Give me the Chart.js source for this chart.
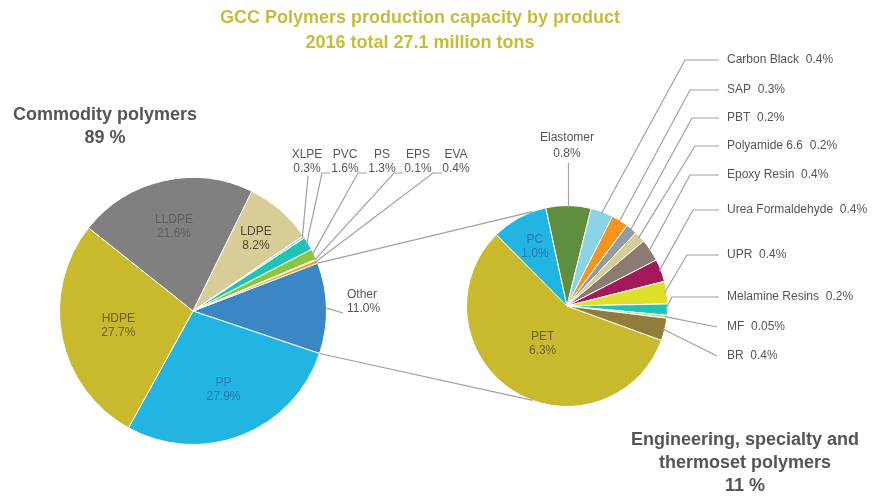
<!DOCTYPE html>
<html>
<head>
<meta charset="utf-8">
<script src="https://cdn.jsdelivr.net/npm/chart.js@4.4.1/dist/chart.umd.min.js"></script>
<style>
body { margin: 0; background: #fff; font-family: "Liberation Sans", Arial, sans-serif; }
#wrap { position: relative; width: 880px; height: 496px; overflow: hidden; }
canvas { position: absolute; left: 0; top: 0; }
.head { position: absolute; font-weight: bold; font-size: 18px; text-align: center; line-height: 23px; color: #555; }
</style>
</head>
<body>
<div id="wrap">
  <canvas id="leftPie" width="880" height="496"></canvas>
  <canvas id="rightPie" width="880" height="496"></canvas>
  <div class="head" style="left:170px;top:5px;width:500px;color:#c6bc3c;line-height:25px">GCC Polymers production capacity by product<br>2016 total 27.1 million tons</div>
  <div class="head" style="left:0;top:103px;width:210px">Commodity polymers<br>89 %</div>
  <div class="head" style="left:615px;top:428px;width:260px">Engineering, specialty and<br>thermoset polymers<br>11 %</div>
</div>
<script>
// commodity polymers (left pie), % of total
const leftLabels = ['Other', 'PP', 'HDPE', 'LLDPE', 'LDPE', 'XLPE', 'PVC', 'PS', 'EPS', 'EVA'];
const leftValues = [11.0, 27.9, 27.7, 21.6, 8.2, 0.3, 1.6, 1.3, 0.1, 0.4];
const leftColors = ['#3b86c4', '#22b5e2', '#c9b92c', '#808080', '#d8cd96', '#a6e0ea', '#20c4b5', '#8cc63e', '#d0e070', '#f39c27'];

// breakdown of "Other" (right pie), % of total
const rightLabels = ['PET', 'PC', 'Elastomer', 'Carbon Black', 'SAP', 'PBT', 'Polyamide 6.6', 'Epoxy Resin',
    'Urea Formaldehyde', 'UPR', 'Melamine Resins', 'MF', 'BR'];
const rightValues = [6.3, 1.0, 0.8, 0.4, 0.3, 0.2, 0.2, 0.4, 0.4, 0.4, 0.2, 0.05, 0.4];
const rightColors = ['#c9b92c', '#22b5e2', '#5f8f3e', '#8ad4e6', '#f7941d', '#939ba4', '#d8cd96', '#8c7b70',
    '#a3195b', '#dfe02a', '#20c4b5', '#b0d890', '#8f7d3a'];

const FONT = '12px "Liberation Sans", Arial, sans-serif';
const LINE = '#a0a0a0';

// label placement (layout only)
const leftInside = {
    PP: { f: 0.63, color: '#2a78ad' },
    HDPE: { f: 0.57, color: '#6a6222' },
    LLDPE: { f: 0.65, color: '#5e5e5e' },
    LDPE: { f: 0.72, color: '#4f4a30' }
};
const leftTop = {
    XLPE: { x: 307, from: [308, 176], tick: 0 },
    PVC: { x: 345, from: [322, 173], tick: 8 },
    PS: { x: 382, from: [358, 173], tick: 9 },
    EPS: { x: 418, from: [394, 173], tick: 9 },
    EVA: { x: 456, from: [433, 173], tick: 9 }
};
const rightInside = {
    PET: { f: 0.45, color: '#6a6222' },
    PC: { f: 0.67, color: '#2a78ad' }
};
const rightSide = {
    'Carbon Black': { y: 60, elbow: 685 },
    'SAP': { y: 90, elbow: 690 },
    'PBT': { y: 118, elbow: 692 },
    'Polyamide 6.6': { y: 146, elbow: 695 },
    'Epoxy Resin': { y: 175, elbow: 690 },
    'Urea Formaldehyde': { y: 210, elbow: 693 },
    'UPR': { y: 255, elbow: 687 },
    'Melamine Resins': { y: 297, elbow: 672 },
    'MF': { y: 327, elbow: null },
    'BR': { y: 356, elbow: null }
};

function pct(v) {
    return (v < 0.1 ? v.toFixed(2) : v.toFixed(1)) + '%';
}

function arcPoint(arc, angle, r) {
    return [arc.x + Math.cos(angle) * r, arc.y + Math.sin(angle) * r];
}

function line(ctx, pts) {
    ctx.beginPath();
    ctx.moveTo(pts[0][0], pts[0][1]);
    for (let i = 1; i < pts.length; i++) ctx.lineTo(pts[i][0], pts[i][1]);
    ctx.stroke();
}

const leftLabelPlugin = {
    id: 'leftLabelPlugin',
    afterDatasetsDraw(chart) {
        const ctx = chart.ctx;
        const arcs = chart.getDatasetMeta(0).data;
        ctx.save();
        ctx.font = FONT;
        ctx.textBaseline = 'middle';
        ctx.strokeStyle = LINE;
        ctx.lineWidth = 1.2;
        arcs.forEach((arc, i) => {
            const name = leftLabels[i];
            const mid = (arc.startAngle + arc.endAngle) / 2;
            const r = arc.outerRadius;
            if (leftInside[name]) {
                const p = arcPoint(arc, mid, r * leftInside[name].f);
                ctx.fillStyle = leftInside[name].color;
                ctx.textAlign = 'center';
                ctx.fillText(name, p[0], p[1] - 7);
                ctx.fillText(pct(leftValues[i]), p[0], p[1] + 7);
            } else if (leftTop[name]) {
                const t = leftTop[name];
                ctx.fillStyle = '#555';
                ctx.textAlign = 'center';
                ctx.fillText(name, t.x, 155);
                ctx.fillText(pct(leftValues[i]), t.x, 169);
                const end = arcPoint(arc, mid, r - 2);
                line(ctx, [[t.from[0] + t.tick, t.from[1]], t.from, end]);
            } else if (name === 'Other') {
                ctx.fillStyle = '#555';
                ctx.textAlign = 'left';
                ctx.fillText(name, 347, 295);
                ctx.fillText(pct(leftValues[i]), 347, 309);
                line(ctx, [arcPoint(arc, mid, r), [343, 313]]);
            }
        });
        ctx.restore();
    }
};

const rightLabelPlugin = {
    id: 'rightLabelPlugin',
    afterDatasetsDraw(chart) {
        const ctx = chart.ctx;
        const arcs = chart.getDatasetMeta(0).data;
        ctx.save();
        ctx.font = FONT;
        ctx.textBaseline = 'middle';
        ctx.strokeStyle = LINE;
        ctx.lineWidth = 1.2;

        // connectors from the "Other" slice to the breakdown pie
        const other = leftChart.getDatasetMeta(0).data[0];
        const c = arcs[0];
        const R = c.outerRadius;
        line(ctx, [arcPoint(other, other.startAngle, other.outerRadius), arcPoint(c, 250 * Math.PI / 180, R)]);
        line(ctx, [arcPoint(other, other.endAngle, other.outerRadius), arcPoint(c, 110 * Math.PI / 180, R)]);

        arcs.forEach((arc, i) => {
            const name = rightLabels[i];
            const mid = (arc.startAngle + arc.endAngle) / 2;
            const r = arc.outerRadius;
            if (rightInside[name]) {
                const p = arcPoint(arc, mid, r * rightInside[name].f);
                ctx.fillStyle = rightInside[name].color;
                ctx.textAlign = 'center';
                ctx.fillText(name, p[0], p[1] - 7);
                ctx.fillText(pct(rightValues[i]), p[0], p[1] + 7);
            } else if (rightSide[name]) {
                const s = rightSide[name];
                ctx.fillStyle = '#555';
                ctx.textAlign = 'left';
                ctx.fillText(name + '  ' + pct(rightValues[i]), 727, s.y);
                const end = arcPoint(arc, mid, r - 2);
                if (s.elbow) line(ctx, [[719, s.y], [s.elbow, s.y], end]);
                else line(ctx, [[717, s.y], end]);
            } else if (name === 'Elastomer') {
                ctx.fillStyle = '#555';
                ctx.textAlign = 'center';
                ctx.fillText(name, 567, 138);
                ctx.fillText(pct(rightValues[i]), 567, 154);
                const end = arcPoint(arc, mid, r - 2);
                line(ctx, [[end[0], 163], end]);
            }
        });
        ctx.restore();
    }
};

const baseOptions = {
    responsive: false,
    animation: false,
    plugins: { legend: { display: false }, tooltip: { enabled: false } }
};

const leftChart = new Chart(document.getElementById('leftPie'), {
    type: 'pie',
    data: {
        labels: leftLabels,
        datasets: [{ data: leftValues, backgroundColor: leftColors, borderColor: '#fff', borderWidth: 1 }]
    },
    options: Object.assign({}, baseOptions, {
        rotation: 69,
        layout: { padding: { left: 59, top: 177, right: 553, bottom: 51 } }
    }),
    plugins: [leftLabelPlugin]
});

const rightChart = new Chart(document.getElementById('rightPie'), {
    type: 'pie',
    data: {
        labels: rightLabels,
        datasets: [{ data: rightValues, backgroundColor: rightColors, borderColor: '#fff', borderWidth: 1 }]
    },
    options: Object.assign({}, baseOptions, {
        rotation: 110,
        layout: { padding: { left: 466, top: 205, right: 212, bottom: 89 } }
    }),
    plugins: [rightLabelPlugin]
});
</script>
</body>
</html>
